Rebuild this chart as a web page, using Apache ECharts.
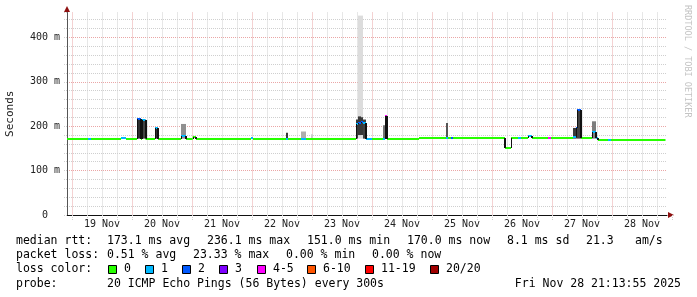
<!DOCTYPE html>
<html><head><meta charset="utf-8">
<script src="https://cdn.jsdelivr.net/npm/echarts@6/dist/echarts.min.js"></script>
<style>html,body{margin:0;padding:0;background:#fff}#c{width:697px;height:297px}</style>
</head><body><div id="c"></div>
<script>
// ---- data (time in hours since 19 Nov 00:00) ----
const dayLabels = ['19 Nov','20 Nov','21 Nov','22 Nov','23 Nov','24 Nov','25 Nov','26 Nov','27 Nov','28 Nov'];
const segStart = [-2, 6.4, 7.6, 19.6, 21.6, 26, 27.6, 28, 29.4, 33.2, 34.4, 43.6, 45.6, 48.3, 49.6, 71.6, 72.4, 85.6, 86.4, 91.6, 93.6, 95.6, 96.4, 113.6, 114.4, 115.6, 116.4, 117.6, 120, 124.4, 125.2, 126, 138.8, 149.6, 150.4, 151.6, 152.4, 173.2, 175.6, 178.4, 179.6, 182.4, 184, 190.4, 191.6, 200.4, 201.6, 202, 203.6, 208, 209.6, 210.4, 214.4, 215.6];
const endHour = 237.4;
const segMedian = [172, 172, 172, 174, 172, 217, 172, 213, 172, 195, 172, 178, 172, 176, 172, 174, 172, 172, 172, 172, 172, 172, 172, 204, 207, 210, 208, 172, 172, 172, 222, 172, 174, 174, 174, 174, 174, 150, 174, 174, 174, 177, 174, 174, 174, 175, 196, 237, 174, 188, 174, 170, 170, 170];
const segLoss = [0, 1, 0, 1, 0, 2, 0, 1, 0, 1, 0, 1, 0, 0, 0, 1, 0, 1, 0, 1, 0, 0, 0, 1, 2, 2, 1, 1, 0, 1, 4, 0, 0, 1, 0, 2, 0, 0, 0, 1, 0, 1, 0, 4, 0, 1, 2, 2, 0, 1, 1, 0, 1, 0];
const smokeLo = [null,null,null,null,null,172,null,172,null,172,null,172,null,null,null,null,null,172,null,172,null,172,null,172,180,180,172,null,null,172,172,null,null,172,null,null,null,null,null,null,null,null,null,null,null,172,172,172,null,172,null,null,null,null];
const smokeHi = [null,null,null,null,null,217,null,215,null,195,null,205,null,null,null,null,null,185,null,188,null,182,null,215,222,220,215,null,null,202,222,null,null,207,null,null,null,null,null,null,null,null,null,null,null,196,196,237,null,211,null,null,null,null];
const smokeDensity = [0,0,0,0,0,0.95,0,0.85,0,0.95,0,0.45,0,0,0,0,0,0.9,0,0.3,0,0.15,0,0.9,0.9,0.9,0.85,0,0,0.6,0.95,0,0,0.75,0,0,0,0,0,0,0,0,0,0,0,0.9,0.95,0.85,0,0.55,0,0,0,0];
const outStart = [114.4];
const outEnd = [116.4];
const outLo = [172];
const outHi = [449];
const lossColors = ['#26ff00','#00b8ff','#0059ff','#7e00ff','#ff00ff','#ff5500','#ff0000','#a00000'];
const lossLabels = ['0','1','2','3','4-5','6-10','11-19','20/20'];
const statsRow1 = [['median rtt:',16],['173.1 ms avg',107],['236.1 ms max',207],['151.0 ms min',307],['170.0 ms now',407],['8.1 ms sd',507],['21.3',586],['am/s',635]];
const statsRow2 = [['packet loss:',16],['0.51 % avg',107],['23.33 % max',193],['0.00 % min',286],['0.00 % now',372]];
const lossBoxX = [108,145,182,219,257,307,365,430];
const probeText = '20 ICMP Echo Pings (56 Bytes) every 300s';
const dateText = 'Fri Nov 28 21:13:55 2025';

// ---- chart ----
const MONO = 'DejaVu Sans Mono';
const chart = echarts.init(document.getElementById('c'), null, {renderer:'canvas'});
function grey(d){ const v = Math.round(232 - d*195); return 'rgb('+v+','+v+','+v+')'; }
const mainData = segStart.map((t,i)=>[t, i+1<segStart.length ? segStart[i+1] : endHour, segMedian[i], i]);
const outData = outStart.map((t,i)=>[t, outEnd[i], outHi[i], i]);

const RED = '#eaa6a6', GRY = '#cfcfcf';
const graphics = [];
const legendFont = '11.5px "' + MONO + '"';
function addText(t,x,y,align){ graphics.push({type:'text', x:x, y:y, silent:true, style:{text:t, font:legendFont, fill:'#000', align:align||'left', verticalAlign:'middle'}}); }
statsRow1.forEach(s=>addText(s[0], s[1], 241));
statsRow2.forEach(s=>addText(s[0], s[1], 255.5));
addText('loss color:', 16, 269.5);
lossBoxX.forEach((x,i)=>{
  graphics.push({type:'rect', silent:true, shape:{x:x+0.5,y:265.5,width:8,height:8}, style:{fill:lossColors[i], stroke:'#000', lineWidth:1}});
  addText(lossLabels[i], x+16, 269.5);
});
addText('probe:', 16, 284);
addText(probeText, 107, 284);
addText(dateText, 681, 284, 'right');
// watermark
graphics.push({type:'text', x:687, y:5, rotation:-Math.PI/2, silent:true, style:{text:'RRDTOOL / TOBI OETIKER', font:'8.5px "'+MONO+'"', fill:'#c4c4c4', align:'left', verticalAlign:'middle'}});
// axis arrows
graphics.push({type:'polygon', silent:true, shape:{points:[[64,12],[70,12],[67,6]]}, style:{fill:'#8e1010'}});
graphics.push({type:'polygon', silent:true, shape:{points:[[668,212],[668,218],[674,215]]}, style:{fill:'#8e1010'}});

function renderMain(params, api){
  const i = api.value(3);
  const t0 = api.value(0), t1 = api.value(1), med = api.value(2);
  const a = api.coord([t0, med]), b = api.coord([t1, med]);
  const ch = [];
  if (smokeHi[i] != null) {
    const lo = api.coord([t0, smokeLo[i]]), hi = api.coord([t1, smokeHi[i]]);
    ch.push({type:'rect', shape:{x:lo[0], y:hi[1], width:hi[0]-lo[0], height:lo[1]-hi[1]}, style:{fill:grey(smokeDensity[i])}});
  }
  const yy = Math.round(a[1]);
  ch.push({type:'rect', shape:{x:a[0], y:yy-1, width:b[0]-a[0], height:2}, style:{fill:lossColors[segLoss[i]]}});
  if (i > 0 && Math.abs(segMedian[i-1]-med) > 2) {
    const p = api.coord([t0, segMedian[i-1]]);
    const xx = Math.round(a[0]) + 0.5;
    ch.push({type:'line', shape:{x1:xx, y1:Math.round(p[1]), x2:xx, y2:yy}, style:{stroke:'#111', lineWidth:1}});
  }
  if (i + 1 < segMedian.length && Math.abs(segMedian[i+1]-med) > 2 && segMedian[i+1] < med) {
    const p = api.coord([t1, segMedian[i+1]]);
    const xx = Math.round(b[0]) - 0.5;
    ch.push({type:'line', shape:{x1:xx, y1:yy, x2:xx, y2:Math.round(p[1])}, style:{stroke:'#111', lineWidth:1}});
  }
  return {type:'group', children:ch};
}
function renderOut(params, api){
  const i = api.value(3);
  const lo = api.coord([api.value(0), outLo[i]]), hi = api.coord([api.value(1), api.value(2)]);
  return {type:'rect', shape:{x:lo[0], y:hi[1], width:hi[0]-lo[0], height:lo[1]-hi[1]}, style:{fill:'#dcdcdc'}};
}

chart.setOption({
  animation:false,
  backgroundColor:'#ffffff',
  grid:[
    {left:67, top:12.5, width:600, height:202.5, containLabel:false, outerBoundsMode:'none'},
    {left:72, top:12.5, width:600, height:202.5, containLabel:false, outerBoundsMode:'none'}
  ],
  xAxis:[
    {gridIndex:0, type:'value', min:-2, max:238, position:'bottom',
     axisLine:{show:true, onZero:false, lineStyle:{color:'#111', width:1}},
     axisTick:{show:false}, axisLabel:{show:false}, splitLine:{show:false}},
    {gridIndex:1, type:'value', min:0, max:240, interval:6, position:'bottom',
     axisLine:{show:false}, axisLabel:{show:false},
     axisTick:{show:true, length:5, inside:false, lineStyle:{color:GRY, type:[1,1]}},
     splitLine:{show:true, showMaxLine:false, lineStyle:{color:[RED,GRY,GRY,GRY], width:1, type:[1,1]}}},
    {gridIndex:1, type:'category', data:dayLabels, boundaryGap:true, position:'bottom',
     axisLine:{show:false}, axisTick:{show:false}, splitLine:{show:false},
     axisLabel:{show:true, margin:4, color:'#222', fontFamily:MONO, fontSize:10}}
  ],
  yAxis:[
    {gridIndex:0, type:'value', min:0, max:456, interval:20,
     name:'Seconds', nameLocation:'middle', nameGap:51, nameRotate:90,
     nameTextStyle:{fontFamily:MONO, fontSize:11, color:'#222'},
     axisLine:{show:true, onZero:false, lineStyle:{color:'#555', width:1}},
     axisTick:{show:true, length:4, lineStyle:{color:GRY, type:[1,1]}},
     axisLabel:{show:true, margin:7, color:'#222', fontFamily:MONO, fontSize:10,
       formatter:function(v){ if (v % 100 !== 0) return ''; return v === 0 ? '0  ' : v + ' m'; }},
     splitLine:{show:true, showMaxLine:false, lineStyle:{color:[RED,GRY,GRY,GRY,GRY], width:1, type:[1,1]}}},
    {gridIndex:1, type:'value', min:0, max:1, show:false}
  ],
  graphic:graphics,
  series:[
    {type:'custom', xAxisIndex:0, yAxisIndex:0, data:outData, encode:{x:[0,1], y:2}, renderItem:renderOut, silent:true, z:2},
    {type:'custom', xAxisIndex:0, yAxisIndex:0, data:mainData, encode:{x:[0,1], y:2}, renderItem:renderMain, silent:true, z:3}
  ]
});
</script></body></html>
